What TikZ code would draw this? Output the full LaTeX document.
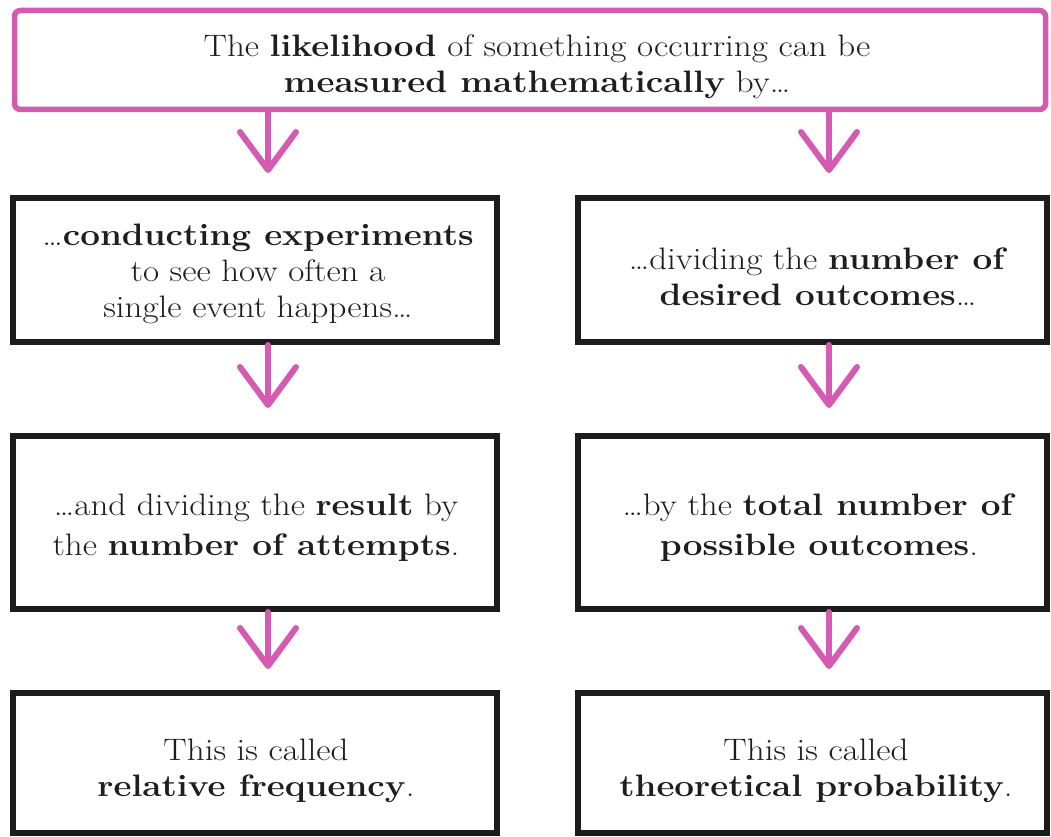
\documentclass[tikz,border=0pt]{standalone}
\usepackage{fontspec}
\setmainfont{Latin Modern Roman}[FakeStretch=1.13]
\usetikzlibrary{arrows.meta}
\definecolor{pinkline}{RGB}{212,90,178}
\definecolor{inkblack}{RGB}{28,28,28}
\definecolor{textc}{RGB}{30,30,30}
\tikzset{
  pinkbox/.style={draw=pinkline, line width=5.5pt, rounded corners=6pt, rectangle,
    inner sep=0pt},
  blackbox/.style={draw=inkblack, line width=6pt, rectangle, inner sep=0pt},
  boxtext/.style={inner sep=0pt, align=center, text=textc,
    font=\fontsize{31}{36}\selectfont},
  parrow/.style={draw=pinkline, line width=6pt, line cap=round,
    -{Straight Barb[length=38pt,width=56pt,round]}},
}
\begin{document}
\begin{tikzpicture}[x=1pt,y=-1pt]
\clip (0,0) rectangle (1051,837);
\fill[white] (0,0) rectangle (1051,837);

% boxes
\node[pinkbox, minimum width=1031pt, minimum height=99pt] (top) at (530,60) {};
\node[blackbox, minimum width=484pt, minimum height=144pt] (L1) at (255,270) {};
\node[blackbox, minimum width=469pt, minimum height=144pt] (R1) at (812.5,270) {};
\node[blackbox, minimum width=484pt, minimum height=173pt] (L2) at (255,522.5) {};
\node[blackbox, minimum width=469pt, minimum height=173pt] (R2) at (812.5,522.5) {};
\node[blackbox, minimum width=484pt, minimum height=140pt] (L3) at (255,763) {};
\node[blackbox, minimum width=469pt, minimum height=140pt] (R3) at (812.5,763) {};

% texts
\node[boxtext] (topt) at (537,66.5)
  {The \textbf{likelihood} of something occurring can be\\ \textbf{measured mathematically} by\ldots};
\node[boxtext] (L1t) at (258,274)
  {\ldots\textbf{conducting experiments}\\ to see how often a\\ single event happens\ldots};
\node[boxtext] (R1t) at (818,276.5)
  {\ldots dividing the \textbf{number of}\\ \textbf{desired outcomes}\ldots};
\node[boxtext] (L2t) at (256,528)
  {\ldots and dividing the \textbf{result} by\\[4pt] the \textbf{number of attempts}.};
\node[boxtext] (R2t) at (819,528)
  {\ldots by the \textbf{total number of}\\[4pt] \textbf{possible outcomes}.};
\node[boxtext] (L3t) at (256,771)
  {This is called\\ \textbf{relative frequency}.};
\node[boxtext] (R3t) at (816,771)
  {This is called\\ \textbf{theoretical probability}.};

% connectors
\coordinate (cL) at (268,0);
\coordinate (cR) at (829,0);
\draw[parrow, shorten >=22pt] (top.south -| cL) -- (L1.north -| cL);
\draw[parrow, shorten >=22pt] (top.south -| cR) -- (R1.north -| cR);
\draw[parrow, shorten >=25pt] (L1.south -| cL) -- (L2.north -| cL);
\draw[parrow, shorten >=25pt] (R1.south -| cR) -- (R2.north -| cR);
\draw[parrow, shorten >=21pt] (L2.south -| cL) -- (L3.north -| cL);
\draw[parrow, shorten >=21pt] (R2.south -| cR) -- (R3.north -| cR);
\end{tikzpicture}
\end{document}
